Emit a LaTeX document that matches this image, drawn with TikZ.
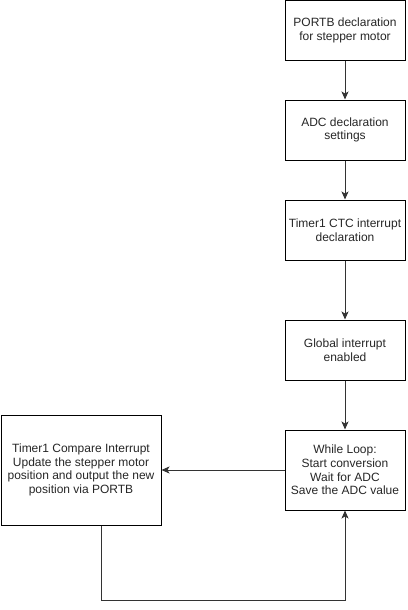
\documentclass[tikz,border=0pt]{standalone}
\usepackage{fontspec}
\setmainfont{Liberation Sans}
\usetikzlibrary{arrows.meta}
\begin{document}
\begin{tikzpicture}[x=1pt,y=-1pt,
  blk/.style={draw=black,line width=1pt,minimum width=120pt,minimum height=60pt,align=center,inner sep=0pt,font=\fontsize{12}{13.6}\selectfont,text=black!85},
  conn/.style={draw=black!80,line width=1pt,-{Stealth[length=8pt,width=7pt,inset=2pt]}}]
\useasboundingbox (0,0) rectangle (407,610);
\node[blk] (b1) at (345,30.5) {PORTB declaration\\for stepper motor};
\node[blk] (b2) at (345,130) {ADC declaration\\settings};
\node[blk] (b3) at (345,230) {Timer1 CTC interrupt\\declaration};
\node[blk] (b4) at (345,350) {Global interrupt\\enabled};
\node[blk,minimum height=80pt] (b5) at (345,470) {While Loop:\\Start conversion\\Wait for ADC\\Save the ADC value};
\node[blk,minimum width=160pt,minimum height=110pt] (b6) at (81,470) {Timer1 Compare Interrupt\\Update the stepper motor\\position and output the new\\position via PORTB};
\coordinate (c1) at (101,600);
\coordinate (c2) at (345,600);
\draw[conn] (b1) -- (b2);
\draw[conn] (b2) -- (b3);
\draw[conn] (b3) -- (b4);
\draw[conn] (b4) -- (b5);
\draw[conn] (b5) -- (b6);
\draw[conn] (b6.south -| c1) -- (c1) -- (c2) -- (b5.south);
\end{tikzpicture}
\end{document}
